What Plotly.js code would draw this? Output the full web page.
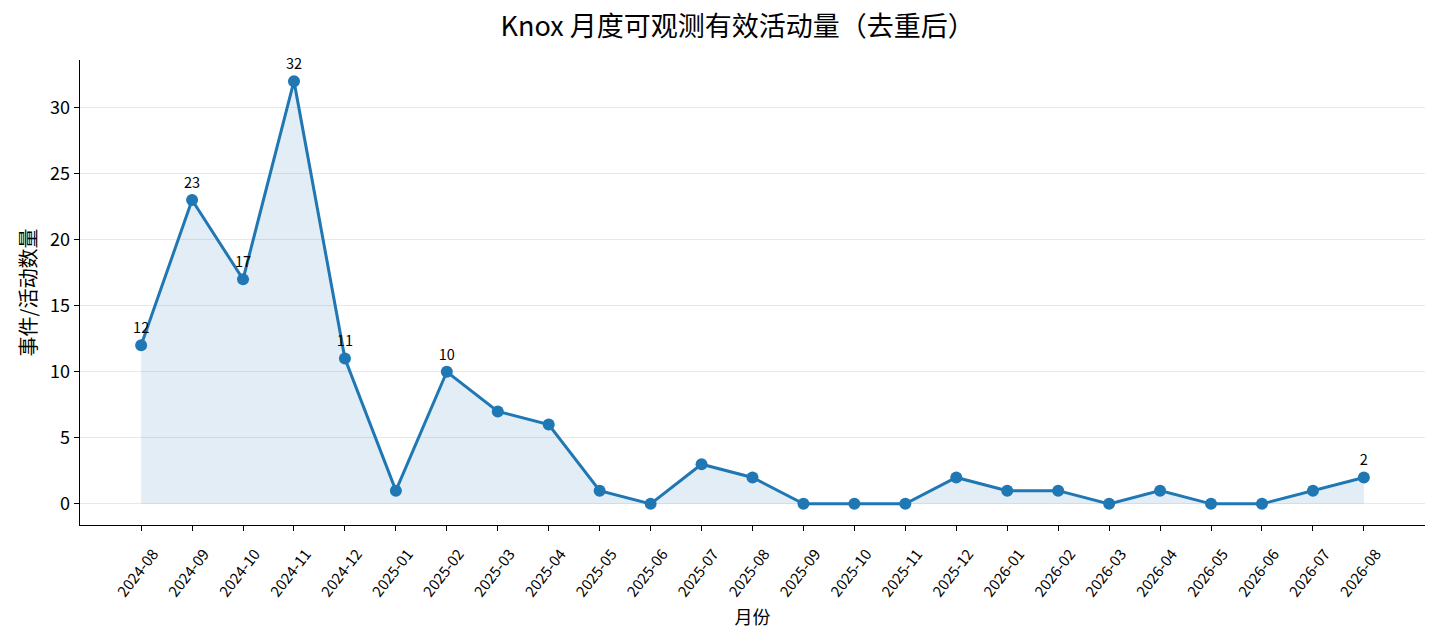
<!DOCTYPE html>
<html>
<head>
<meta charset="utf-8">
<script src="https://cdn.plot.ly/plotly-3.0.1.min.js"></script>
<style>
  html, body { margin: 0; padding: 0; background: #fff; }
  #chart { width: 1440px; height: 641px; }
</style>
</head>
<body>
<div id="chart"></div>
<script>
//monthly data (deduplicated)
var months = [
  "2024-08", "2024-09", "2024-10", "2024-11", "2024-12",
  "2025-01", "2025-02", "2025-03", "2025-04", "2025-05", "2025-06",
  "2025-07", "2025-08", "2025-09", "2025-10", "2025-11", "2025-12",
  "2026-01", "2026-02", "2026-03", "2026-04", "2026-05", "2026-06",
  "2026-07", "2026-08"
];
var counts = [12, 23, 17, 32, 11, 1, 10, 7, 6, 1, 0, 3, 2, 0, 0, 0, 2, 1, 1, 0, 1, 0, 0, 1, 2];

var fontFamily = "Noto Sans CJK SC, Noto Sans, sans-serif";
var blue = "#1f77b4";

//label points >= 10 and the last one
var labels = counts.map(function (v, i) {
  return (v >= 10 || i == counts.length - 1) ? String(v) : "";
});

var data = [
  {
    x: months,
    y: counts,
    type: "scatter",
    mode: "lines+markers+text",
    fill: "tozeroy",
    fillcolor: "rgba(31,119,180,0.13)",
    line: { color: blue, width: 3 },
    marker: { color: blue, size: 12 },
    text: labels,
    textposition: "top center",
    textfont: { family: fontFamily, size: 14.5, color: "#000" },
    cliponaxis: false,
    hoverinfo: "x+y",
  },
];

var layout = {
  width: 1440,
  height: 641,
  margin: { l: 80, r: 15, t: 60, b: 116 },
  paper_bgcolor: "#fff",
  plot_bgcolor: "#fff",
  showlegend: false,
  font: { family: fontFamily, color: "#000" },
  title: {
    text: "Knox 月度可观测有效活动量（去重后）",
    font: { family: fontFamily, size: 27, color: "#000" },
    xref: "paper",
    x: 0.489,
    xanchor: "center",
    y: 0.958,
    yanchor: "middle",
  },
  xaxis: {
    type: "category",
    range: [-1.2, 25.2],
    showgrid: false,
    zeroline: false,
    showline: true,
    linecolor: "#000",
    linewidth: 1.3,
    ticks: "outside",
    ticklen: 5,
    tickcolor: "#000",
    tickangle: -52,
    ticklabelshift: 12,
    ticklabelstandoff: 8,
    tickfont: { family: fontFamily, size: 15, color: "#000" },
    title: { text: "月份", font: { family: fontFamily, size: 18, color: "#000" }, standoff: 12 },
  },
  yaxis: {
    range: [-1.6, 33.6],
    tickvals: [0, 5, 10, 15, 20, 25, 30],
    showgrid: true,
    gridcolor: "rgba(0,0,0,0.09)",
    gridwidth: 1,
    zeroline: false,
    showline: true,
    linecolor: "#000",
    linewidth: 1.3,
    ticks: "outside",
    ticklen: 5,
    tickcolor: "#000",
    tickfont: { family: fontFamily, size: 18, color: "#000" },
    title: { text: "事件/活动数量", font: { family: fontFamily, size: 20, color: "#000" }, standoff: 8 },
  },
};

Plotly.newPlot("chart", data, layout, { displayModeBar: false, staticPlot: true });
</script>
</body>
</html>
